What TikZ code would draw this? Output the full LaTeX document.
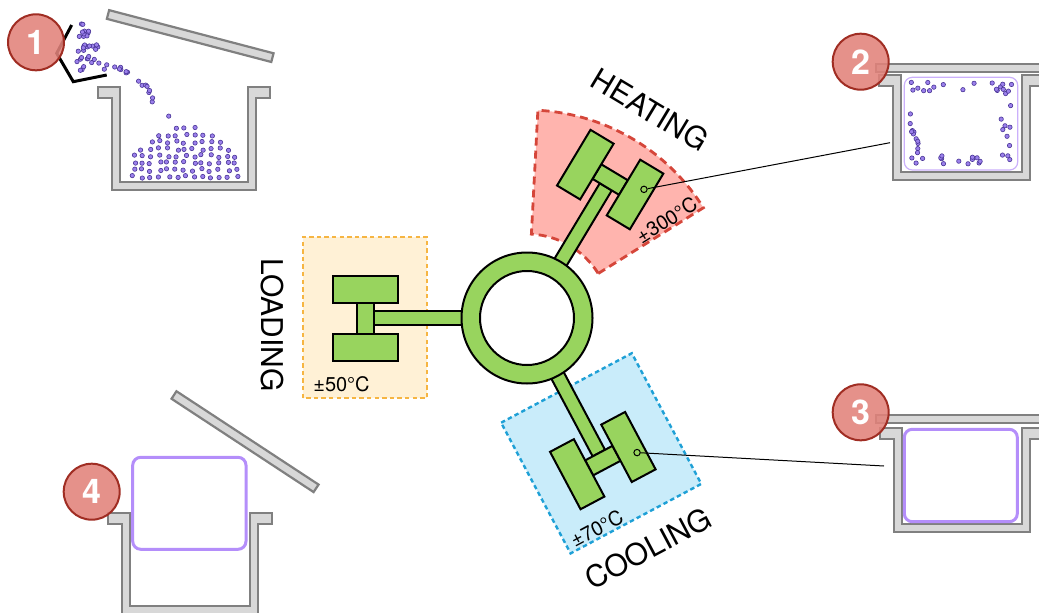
\documentclass[tikz,border=0pt]{standalone}
\usepackage{fontspec}
\setmainfont{TeX Gyre Heros}
\usepackage{xcolor}
\usepackage{tikz}
\usetikzlibrary{calc}

\definecolor{padgreen}{RGB}{152,212,94}
\definecolor{potgray}{RGB}{216,216,216}
\definecolor{potline}{RGB}{128,128,128}
\definecolor{hotfill}{RGB}{255,180,174}
\definecolor{hotline}{RGB}{213,70,58}
\definecolor{coldfill}{RGB}{201,236,250}
\definecolor{coldline}{RGB}{30,160,214}
\definecolor{loadfill}{RGB}{255,241,214}
\definecolor{loadline}{RGB}{246,181,66}
\definecolor{shell}{RGB}{180,142,250}
\definecolor{grainfill}{RGB}{155,128,235}
\definecolor{grainline}{RGB}{72,52,150}
\definecolor{badgefill}{RGB}{225,130,122}
\definecolor{badgeline}{RGB}{160,45,35}

\tikzset{
	padbox/.style={draw=black, fill=padgreen, line width=1pt},
	potwall/.style={draw=potline, fill=potgray, line width=1.1pt},
	hotzone/.style={draw=hotline, fill=hotfill, line width=1.4pt, dash pattern=on 4pt off 2.5pt},
	coldzone/.style={draw=coldline, fill=coldfill, line width=1.2pt, dash pattern=on 2.2pt off 1.6pt},
	loadzone/.style={draw=loadline, fill=loadfill, line width=1pt, dash pattern=on 2.2pt off 1.6pt},
	stage/.style={inner sep=0pt, font=\fontsize{15}{18}\selectfont},
	temp/.style={inner sep=0pt, font=\fontsize{10}{12}\selectfont},
	shellbox/.style={draw=shell, fill=white, line width=1.5pt, rounded corners=4pt},
	grain/.style={draw=grainline, fill=grainfill, line width=0.3pt},
	marker/.style={circle, draw=black, fill=padgreen, line width=0.5pt, minimum size=3.2pt, inner sep=0pt},
	badge/.style={circle, draw=badgeline, fill=badgefill, fill opacity=0.88, text opacity=1, line width=1pt,
		minimum size=28pt, inner sep=0pt, text=white, font=\fontsize{17}{20}\selectfont\bfseries}
}

\newcommand{\pot}[4]{%
	\draw[potwall] ({#1-22},#3) -- (#1,#3) -- (#1,#4) -- (#2,#4) -- (#2,#3) -- ({#2+22},#3)
		-- ({#2+22},{#3-11}) -- ({#2+8},{#3-11}) -- ({#2+8},{#4-8}) -- ({#1-8},{#4-8})
		-- ({#1-8},{#3-11}) -- ({#1-22},{#3-11}) -- cycle;}
\newcommand{\lid}[3]{\draw[potwall, shift={(#1)}, rotate=#2] (0,-4.5) rectangle (#3,4.5);}
\newcommand{\station}[1]{%
	\begin{scope}[shift={(ring)}, rotate=#1]
		\draw[padbox] (55,-7) rectangle (153,7);
		\draw[padbox] (153,-15.5) rectangle (170,15.5);
		\draw[padbox] (129,15.5) rectangle (194,42.5);
		\draw[padbox] (129,-42.5) rectangle (194,-15.5);
	\end{scope}}

\begin{document}
\begin{tikzpicture}[x=0.5pt, y=0.5pt]
	\useasboundingbox (0,0) rectangle (1039,612);
	\coordinate (ring) at (527,294);

	% zones
	\draw[loadzone] (303,214) rectangle (427,375);
	\begin{scope}[shift={(ring)}]
		\draw[hotzone] (32:84) -- (32:208) arc[start angle=32, end angle=87, radius=208]
			-- (87:84) arc[start angle=87, end angle=32, radius=84] -- cycle;
	\end{scope}
	\draw[coldzone, shift={(601.2,158.7)}, rotate=-62] (-74,-74) rectangle (74,74);

	% pots and lids
	\lid{108,597.5}{-14.7}{170}
	\pot{120}{248.3}{524.7}{430.3}
	\lid{174,217}{-33.3}{170}
	\pot{130}{250}{98.7}{6}
	\draw[potwall] (876,540) rectangle (1050,548);
	\pot{901}{1022}{537}{440}
	\draw[potwall] (876,189) rectangle (1050,197);
	\pot{901.7}{1021.7}{184}{88}

	\draw[shellbox, draw=shell!70, line width=0.6pt] (904.3,442) rectangle (1017.7,534.7);
	\draw[shellbox] (904.3,90.3) rectangle (1017.3,182.7);
	\draw[shellbox] (132.7,62.7) rectangle (246,154.7);

	% grains
	\pgfmathsetseed{42}
	\foreach \gx in {134,142.5,...,238}{
		\foreach \gy in {435,442,...,487}{
			\pgfmathsetmacro\gtop{485-0.011*(\gx-185)^2}
			\ifdim \gy pt<\gtop pt
				\draw[grain] ({\gx+4*(rnd-0.5)},{\gy+3*(rnd-0.5)}) circle[radius=1.1pt];
			\fi
		}
	}
	\foreach \i in {1,...,16}{
		\pgfmathsetmacro\gt{rnd}
		\pgfmathsetmacro\gx{115+59*\gt+8*(rnd-0.5)}
		\pgfmathsetmacro\gy{550-55*\gt+8*(rnd-0.5)}
		\draw[grain] (\gx,\gy) circle[radius=1.1pt];
	}
	\foreach \i in {1,...,36}{
		\pgfmathsetmacro\gs{sqrt(rnd)}
		\pgfmathsetmacro\gr{rnd}
		\pgfmathsetmacro\gx{(1-\gs)*82+\gs*(1-\gr)*70+\gs*\gr*112}
		\pgfmathsetmacro\gy{(1-\gs)*592+\gs*(1-\gr)*540+\gs*\gr*542}
		\draw[grain] (\gx,\gy) circle[radius=1.1pt];
	}
	\foreach \i in {1,...,16}{
		\draw[grain] ({909+104*rnd},{530-9*rnd}) circle[radius=1.1pt];
		\draw[grain] ({909+104*rnd},{447+10*rnd}) circle[radius=1.1pt];
	}
	\foreach \i in {1,...,11}{
		\draw[grain] ({909+10*rnd},{455+62*rnd}) circle[radius=1.1pt];
		\draw[grain] ({1000+13*rnd},{455+68*rnd}) circle[radius=1.1pt];
	}

	\draw[line width=1.5pt] (71.7,587) -- (56.7,558.7) -- (73.3,530.3) -- (106.7,537);

	% turntable
	\station{180}
	\station{59}
	\station{-62}
	\draw[padbox, even odd rule] (ring) circle[radius=65.5] (ring) circle[radius=47];

	\node[marker] (hotmark) at ($(ring)+(59:170.5)+(-31:34)$) {};
	\node[marker] (coldmark) at ($(ring)+(-62:170.5)+(28:34)$) {};
	\coordinate (hotpot) at (890,469.3);
	\coordinate (coldpot) at (884,146);
	\draw[line width=0.5pt] (hotmark) -- (hotpot);
	\draw[line width=0.5pt] (coldmark) -- (coldpot);

	% labels
	\node[stage, rotate=-31] (heatlbl) at (650,502) {HEATING};
	\node[stage, rotate=28] (coollbl) at (648.3,63.7) {COOLING};
	\node[stage, rotate=-90] (loadlbl) at (272,287) {LOADING};
	\node[temp] (loadtemp) at (341.5,227.5) {±50°C};
	\node[temp, rotate=32] (heattemp) at (666.7,392) {±300°C};
	\node[temp, rotate=28] (coldtemp) at (596.7,83.7) {±70°C};

	\node[badge] (one) at (36,569.7) {1};
	\node[badge] (two) at (860.7,550.3) {2};
	\node[badge] (three) at (860.7,199.7) {3};
	\node[badge] (four) at (91.7,120.3) {4};
\end{tikzpicture}
\end{document}
